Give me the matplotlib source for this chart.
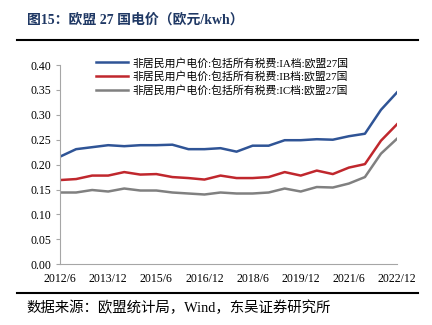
#!/usr/bin/env python3

from matplotlib import pyplot as plt
from matplotlib.lines import Line2D
import numpy as np

fonts = ['Liberation Serif', 'Noto Sans CJK SC', 'DejaVu Sans']
plt.rcParams['font.family'] = fonts

# 半年度数据 2012/6 ~ 2022/12
periods = [f'{y}/{m}' for y in range(2012, 2023) for m in (6, 12)]
tick_labels = ['2012/6', '2013/12', '2015/6', '2016/12', '2018/6', '2019/12', '2021/6', '2022/12']

price_ia = [0.216, 0.231, 0.235, 0.239, 0.237, 0.239, 0.239, 0.240, 0.231, 0.231, 0.233,
            0.226, 0.238, 0.238, 0.249, 0.249, 0.251, 0.250, 0.257, 0.262, 0.310, 0.345]
price_ib = [0.169, 0.171, 0.178, 0.178, 0.185, 0.180, 0.181, 0.175, 0.173, 0.170, 0.178,
            0.173, 0.173, 0.175, 0.185, 0.178, 0.188, 0.181, 0.194, 0.201, 0.248, 0.281]
price_ic = [0.144, 0.144, 0.149, 0.146, 0.152, 0.148, 0.148, 0.144, 0.142, 0.140, 0.144,
            0.142, 0.142, 0.144, 0.152, 0.146, 0.155, 0.154, 0.162, 0.175, 0.222, 0.252]

labels = ['非居民用户电价:包括所有税费:IA档:欧盟27国',
          '非居民用户电价:包括所有税费:IB档:欧盟27国',
          '非居民用户电价:包括所有税费:IC档:欧盟27国']
colors = ['#2F5496', '#C0272D', '#808080']

fig = plt.figure(figsize=(4.32, 3.25), dpi=100)
ax = fig.add_axes([0.139, 0.187, 0.780, 0.613])

x = np.arange(len(periods))
for vals, lab, c in zip([price_ia, price_ib, price_ic], labels, colors):
    ax.plot(x, vals, color=c, lw=1.8, label=lab)

ax.set_xlim(0, len(periods) - 1)
ax.set_ylim(0, 0.40)
ax.set_yticks(np.arange(0, 0.41, 0.05))
ax.set_yticklabels([f'{v:.2f}' for v in np.arange(0, 0.41, 0.05)])
tick_pos = [periods.index(t) for t in tick_labels]
ax.set_xticks(tick_pos, tick_labels)

for s in ['top', 'right']:
    ax.spines[s].set_visible(False)
for s in ['left', 'bottom']:
    ax.spines[s].set_color('#A6A6A6')
    ax.spines[s].set_linewidth(0.8)
ax.tick_params(axis='y', length=3, color='#A6A6A6', labelsize=8.5, pad=3)
ax.tick_params(axis='x', length=0, labelsize=8.5, pad=6)

ax.legend(loc='upper left', bbox_to_anchor=(0.09, 1.065), frameon=False,
          fontsize=7.8, handlelength=3.0, handletextpad=0.4, labelspacing=0.28,
          borderpad=0)

# 标题与来源
fig.text(0.062, 0.938, '图15：欧盟 27 国电价（欧元/kwh）', fontsize=10,
         fontweight='bold', color='#1F3864', va='center', ha='left')
fig.add_artist(Line2D([0.040, 0.968], [0.877, 0.877], color='black', lw=1.5))
fig.add_artist(Line2D([0.040, 0.968], [0.097, 0.097], color='black', lw=1.5))
fig.text(0.062, 0.052, '数据来源：欧盟统计局，Wind，东吴证券研究所', fontsize=10.4,
         color='black', va='center', ha='left')

plt.savefig('out.png')
plt.close()
